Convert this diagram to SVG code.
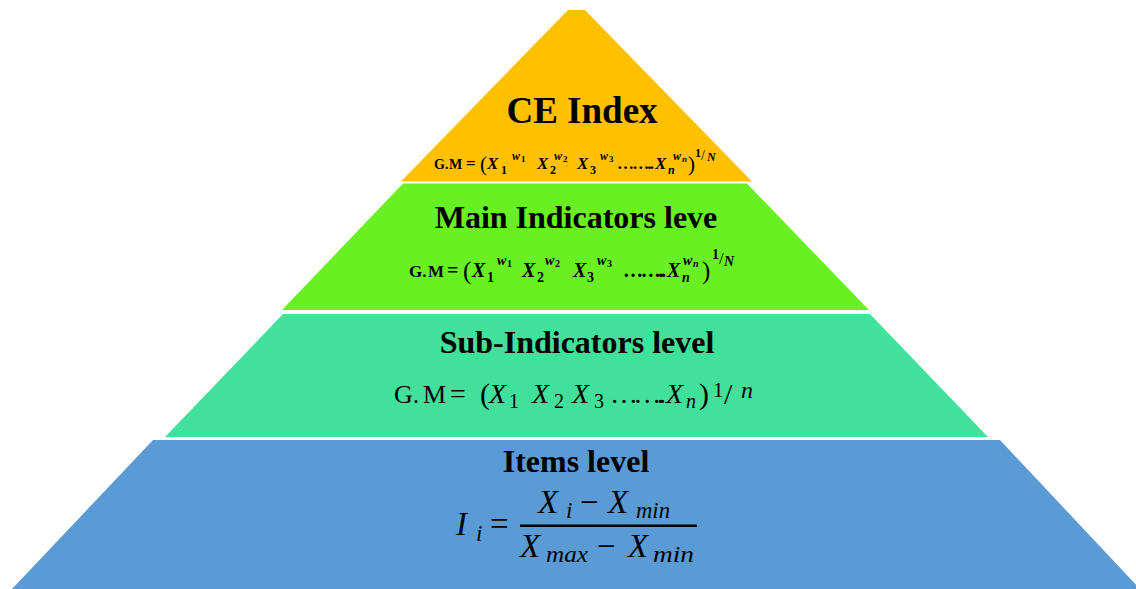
<svg xmlns="http://www.w3.org/2000/svg" width="1136" height="589" viewBox="0 0 1136 589">
<style>
.h{font-family:"Liberation Serif",serif;font-weight:bold;text-anchor:middle;fill:#000}
.m{font-family:"Liberation Serif",serif;fill:#000}
.b{font-weight:bold}
.i{font-style:italic}
</style>
<rect width="1136" height="589" fill="#fff"/>
<g id="connectors"/>
<g id="ce-index">
<polygon points="568,10 585,10 752,181.5 401,181.5" fill="#FFC000"/>
<text class="h" x="582" y="123" font-size="37">CE Index</text>
<text class="m b" font-size="17">
<tspan x="434" y="169" font-size="14">G.</tspan><tspan x="449" y="169" font-size="14">M</tspan><tspan x="466" y="169">=</tspan><tspan x="480" y="171" font-size="21" font-weight="normal">(</tspan>
<tspan class="i" x="487" y="169">X</tspan><tspan x="501" y="174" font-size="12">1</tspan><tspan class="i" x="512" y="160" font-size="12">w</tspan><tspan x="521" y="162" font-size="9">1</tspan>
<tspan class="i" x="537" y="169">X</tspan><tspan x="550" y="174" font-size="12">2</tspan><tspan class="i" x="554" y="160" font-size="12">w</tspan><tspan x="563" y="162" font-size="9">2</tspan>
<tspan class="i" x="577" y="169">X</tspan><tspan x="590" y="174" font-size="12">3</tspan><tspan class="i" x="600" y="160" font-size="12">w</tspan><tspan x="609" y="162" font-size="9">3</tspan>
<tspan x="617" y="169" textLength="37" lengthAdjust="spacing">……..</tspan>
<tspan class="i" x="655" y="169">X</tspan><tspan class="i" x="668" y="174" font-size="12">n</tspan><tspan class="i" x="673" y="160" font-size="12">w</tspan><tspan class="i" x="682" y="162" font-size="9">n</tspan>
<tspan x="688" y="171" font-size="21" font-weight="normal">)</tspan><tspan x="695" y="157" font-size="12">1</tspan><tspan x="701" y="160" font-size="14" font-weight="normal">/</tspan><tspan class="i" x="707" y="161" font-size="12">N</tspan>
</text>
</g>
<g id="main-indicators">
<polygon points="403,183.5 747,183.5 869,310 282,310" fill="#68F022"/>
<text class="h" x="576" y="228" font-size="32">Main Indicators leve</text>
<text class="m b" font-size="20">
<tspan x="409" y="277" font-size="17">G.</tspan><tspan x="428" y="277" font-size="17">M</tspan><tspan x="447" y="277">=</tspan><tspan x="463" y="279" font-size="25" font-weight="normal">(</tspan>
<tspan class="i" x="472" y="277">X</tspan><tspan x="487" y="282" font-size="14">1</tspan><tspan class="i" x="497" y="265" font-size="14">w</tspan><tspan x="507" y="267" font-size="10">1</tspan>
<tspan class="i" x="522" y="277">X</tspan><tspan x="537" y="282" font-size="14">2</tspan><tspan class="i" x="545" y="265" font-size="14">w</tspan><tspan x="555" y="267" font-size="10">2</tspan>
<tspan class="i" x="573" y="277">X</tspan><tspan x="587" y="282" font-size="14">3</tspan><tspan class="i" x="597" y="265" font-size="14">w</tspan><tspan x="607" y="267" font-size="10">3</tspan>
<tspan x="623" y="277" textLength="43" lengthAdjust="spacing">……..</tspan>
<tspan class="i" x="667" y="277">X</tspan><tspan class="i" x="682" y="282" font-size="14">n</tspan><tspan class="i" x="683" y="265" font-size="14">w</tspan><tspan class="i" x="693" y="267" font-size="10">n</tspan>
<tspan x="702" y="279" font-size="25" font-weight="normal">)</tspan><tspan x="712" y="259" font-size="14">1</tspan><tspan x="719" y="264" font-size="17" font-weight="normal">/</tspan><tspan class="i" x="724" y="266" font-size="14">N</tspan>
</text>
</g>
<g id="sub-indicators">
<polygon points="283,314 870,314 988,437 165,437" fill="#42E19B"/>
<text class="h" x="577" y="353" font-size="32">Sub-Indicators level</text>
<text class="m" font-size="28">
<tspan x="394" y="403" font-size="26">G.</tspan><tspan x="423" y="403" font-size="26">M</tspan><tspan x="450" y="403">=</tspan><tspan x="480" y="404" font-size="30">(</tspan>
<tspan class="i" x="489" y="403">X</tspan><tspan x="509" y="408" font-size="20">1</tspan>
<tspan class="i" x="532" y="403">X</tspan><tspan x="554" y="408" font-size="20">2</tspan>
<tspan class="i" x="572" y="403">X</tspan><tspan x="594" y="408" font-size="20">3</tspan>
<tspan x="610" y="403" textLength="56" lengthAdjust="spacing">……..</tspan>
<tspan class="i" x="666" y="403">X</tspan><tspan class="i" x="686" y="408" font-size="20">n</tspan>
<tspan x="699" y="404" font-size="30">)</tspan><tspan x="713" y="397" font-size="21">1</tspan><tspan x="724" y="404" font-size="30">/</tspan><tspan class="i" x="741" y="398" font-size="24">n</tspan>
</text>
</g>
<g id="items">
<polygon points="153,440 1000,440 1140,589 12,589" fill="#5B9BD5"/>
<text class="h" x="576" y="472" font-size="32">Items level</text>
<text class="m" font-size="33">
<tspan class="i" x="456" y="535">I</tspan><tspan class="i" x="476" y="541" font-size="23">i</tspan>
<tspan x="490" y="535">=</tspan>
<tspan class="i" x="538" y="513">X</tspan><tspan class="i" x="566" y="518" font-size="23">i</tspan>
<tspan x="580" y="513">−</tspan>
<tspan class="i" x="608" y="513">X</tspan><tspan class="i" x="636" y="518" font-size="23" textLength="34" lengthAdjust="spacingAndGlyphs">min</tspan>
<tspan class="i" x="520" y="557">X</tspan><tspan class="i" x="546" y="562" font-size="23" textLength="42" lengthAdjust="spacingAndGlyphs">max</tspan>
<tspan x="597" y="557">−</tspan>
<tspan class="i" x="628" y="557">X</tspan><tspan class="i" x="653" y="562" font-size="23" textLength="41" lengthAdjust="spacingAndGlyphs">min</tspan>
</text>
<rect x="520" y="524.5" width="177" height="2.5" fill="#000"/>
</g>
</svg>
